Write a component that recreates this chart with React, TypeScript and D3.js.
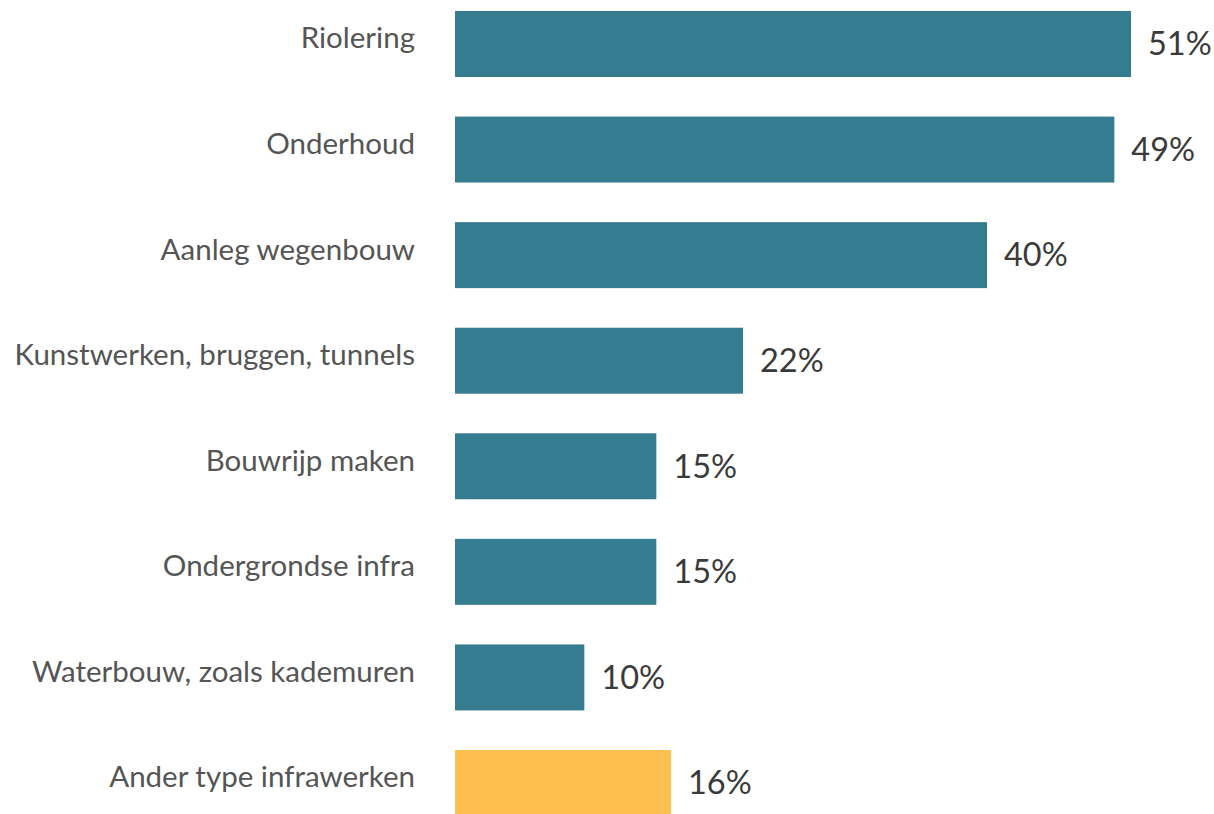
import React from "react";
import * as d3 from "d3";

// categories top to bottom
const categories = [
  "Riolering",
  "Onderhoud",
  "Aanleg wegenbouw",
  "Kunstwerken, bruggen, tunnels",
  "Bouwrijp maken",
  "Ondergrondse infra",
  "Waterbouw, zoals kademuren",
  "Ander type infrawerken",
];
// share in % (labels show the rounded value)
const values = [50.7, 49.45, 39.9, 21.6, 15.1, 15.1, 9.7, 16.2];
const highlight = ["Ander type infrawerken"];

const WIDTH = 1214;
const HEIGHT = 814;
const BLUE = "#357c90";
const YELLOW = "#fdbf4f";
const FONT = "Lato, 'Open Sans', sans-serif";

const App = () => {
  const x = d3.scaleLinear().domain([0, 50.7]).range([455, 1131]);
  const y = d3
    .scaleBand()
    .domain(categories)
    .range([-8.8, 835.8])
    .paddingInner(0.375)
    .paddingOuter(0.1875);

  const rows = categories.map((c, i) => ({ cat: c, val: values[i] }));

  return (
    <svg
      width={WIDTH}
      height={HEIGHT}
      style={{ position: "absolute", left: 0, top: 0, background: "#fff" }}
    >
      {rows.map((d) => {
        const top = y(d.cat);
        const mid = top + y.bandwidth() / 2;
        return (
          <g key={d.cat}>
            <rect
              x={x(0)}
              y={top}
              width={x(d.val) - x(0)}
              height={y.bandwidth()}
              fill={highlight.includes(d.cat) ? YELLOW : BLUE}
            />
            <text
              x={x(0) - 40}
              y={mid - 3}
              textAnchor="end"
              dominantBaseline="middle"
              fontFamily={FONT}
              fontSize={29.5}
              fill="#555"
            >
              {d.cat}
            </text>
            <text
              x={x(d.val) + 17}
              y={mid + 3}
              dominantBaseline="middle"
              fontFamily={FONT}
              fontSize={32.5}
              fill="#3a3a3a"
            >
              {Math.round(d.val) + "%"}
            </text>
          </g>
        );
      })}
    </svg>
  );
};

export default App;
